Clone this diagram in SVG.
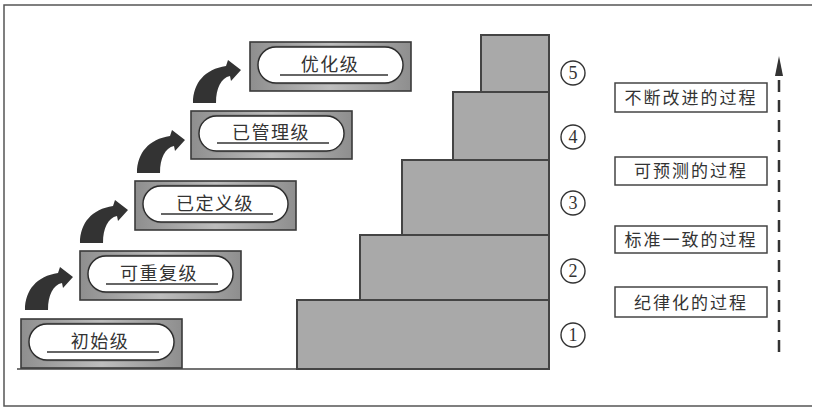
<svg xmlns="http://www.w3.org/2000/svg" xmlns:xlink="http://www.w3.org/1999/xlink" width="813" height="409" viewBox="0 0 813 409">
<style>
.lvl-box{fill:url(#boxg);stroke:#3a3a3a;stroke-width:1.6}
.pill-sh{fill:none;stroke:#8a8a8a;stroke-width:3}
.pill{fill:#fff;stroke:#2a2a2a;stroke-width:1.4}
.uline{stroke:#333;stroke-width:1.4}
.lvl-txt{font-family:"Noto Sans CJK SC","Noto Sans",sans-serif;font-size:18px;letter-spacing:1.5px;fill:#333;text-anchor:middle}
.step{fill:#a9a9a9;stroke:#444;stroke-width:2}
.num-c{fill:#fff;stroke:#333;stroke-width:1.4}
.num-t{font-family:"Liberation Serif",serif;font-size:18px;fill:#333;text-anchor:middle}
.proc-box{fill:#fff;stroke:#444;stroke-width:1.5}
.proc-txt{font-family:"Noto Sans CJK SC","Noto Sans",sans-serif;font-size:17px;letter-spacing:2px;fill:#333;text-anchor:middle}
.curve{fill:#333}
</style>
<defs>
<linearGradient id="boxg" x1="0" y1="0" x2="1" y2="0">
<stop offset="0" stop-color="#8e8e8e"/>
<stop offset="0.5" stop-color="#bdbdbd"/>
<stop offset="1" stop-color="#8e8e8e"/>
</linearGradient>
<path id="carrow" d="M0,0 C0,-20 12,-34 33,-37 L35,-43 L48,-33 L38,-22 L37,-27 C28,-25 23,-15 23,0 Z"/>
</defs>
<rect width="813" height="409" fill="#fff"/>
<path d="M812,5 H4 V406 H812" fill="none" stroke="#555" stroke-width="1.5"/>
<line x1="17" y1="369" x2="298" y2="369" stroke="#444" stroke-width="1.5"/>

<g id="node-l1">
<rect class="lvl-box" x="21" y="319" width="161" height="49"/>
<rect class="pill-sh" x="29" y="324" width="145" height="36" rx="18"/>
<rect class="pill" x="29" y="324" width="145" height="36" rx="18"/>
<line class="uline" x1="47" y1="352" x2="159" y2="352"/>
<text class="lvl-txt" x="100" y="348">初始级</text>
</g>
<g id="node-l2">
<rect class="lvl-box" x="80" y="251" width="161" height="49"/>
<rect class="pill-sh" x="88" y="256" width="145" height="36" rx="18"/>
<rect class="pill" x="88" y="256" width="145" height="36" rx="18"/>
<line class="uline" x1="106" y1="284" x2="218" y2="284"/>
<text class="lvl-txt" x="159" y="280">可重复级</text>
</g>
<g id="node-l3">
<rect class="lvl-box" x="135" y="181" width="161" height="49"/>
<rect class="pill-sh" x="143" y="186" width="145" height="36" rx="18"/>
<rect class="pill" x="143" y="186" width="145" height="36" rx="18"/>
<line class="uline" x1="161" y1="214" x2="273" y2="214"/>
<text class="lvl-txt" x="215" y="210">已定义级</text>
</g>
<g id="node-l4">
<rect class="lvl-box" x="191" y="111" width="161" height="48"/>
<rect class="pill-sh" x="199" y="116" width="145" height="35" rx="17.5"/>
<rect class="pill" x="199" y="116" width="145" height="35" rx="17.5"/>
<line class="uline" x1="217" y1="143" x2="329" y2="143"/>
<text class="lvl-txt" x="271" y="139">已管理级</text>
</g>
<g id="node-l5">
<rect class="lvl-box" x="250" y="42" width="161" height="49"/>
<rect class="pill-sh" x="258" y="47" width="145" height="36" rx="18"/>
<rect class="pill" x="258" y="47" width="145" height="36" rx="18"/>
<line class="uline" x1="280" y1="75" x2="388" y2="75"/>
<text class="lvl-txt" x="330" y="71">优化级</text>
</g>

<g id="staircase">
<rect class="step" x="297" y="300" width="252" height="69"/>
<rect class="step" x="360" y="235" width="189" height="65"/>
<rect class="step" x="402" y="160" width="147" height="75"/>
<rect class="step" x="453" y="92" width="96" height="68"/>
<rect class="step" x="481" y="35" width="68" height="57"/>
</g>

<g id="numbers">
<circle class="num-c" cx="573" cy="73" r="12"/><text class="num-t" x="573" y="79">5</text>
<circle class="num-c" cx="573" cy="137" r="12"/><text class="num-t" x="573" y="143">4</text>
<circle class="num-c" cx="573" cy="203" r="12"/><text class="num-t" x="573" y="209">3</text>
<circle class="num-c" cx="573" cy="271" r="12"/><text class="num-t" x="573" y="277">2</text>
<circle class="num-c" cx="573" cy="335" r="12"/><text class="num-t" x="573" y="341">1</text>
</g>

<g id="node-p4">
<rect class="proc-box" x="615" y="83" width="152" height="29"/>
<text class="proc-txt" x="691" y="104">不断改进的过程</text>
</g>
<g id="node-p3">
<rect class="proc-box" x="615" y="157" width="152" height="28"/>
<text class="proc-txt" x="691" y="177">可预测的过程</text>
</g>
<g id="node-p2">
<rect class="proc-box" x="615" y="226" width="152" height="27"/>
<text class="proc-txt" x="691" y="246">标准一致的过程</text>
</g>
<g id="node-p1">
<rect class="proc-box" x="615" y="287" width="152" height="30"/>
<text class="proc-txt" x="691" y="309">纪律化的过程</text>
</g>

<g id="connectors">
<use xlink:href="#carrow" class="curve" transform="translate(25,310)"/>
<use xlink:href="#carrow" class="curve" transform="translate(80,243)"/>
<use xlink:href="#carrow" class="curve" transform="translate(137,173)"/>
<use xlink:href="#carrow" class="curve" transform="translate(193,103)"/>
<line x1="779" y1="352" x2="779" y2="76" stroke="#333" stroke-width="2.5" stroke-dasharray="12 8"/>
<path d="M775,76 L779,56 L783,76 Z" fill="#333"/>
</g>
</svg>
